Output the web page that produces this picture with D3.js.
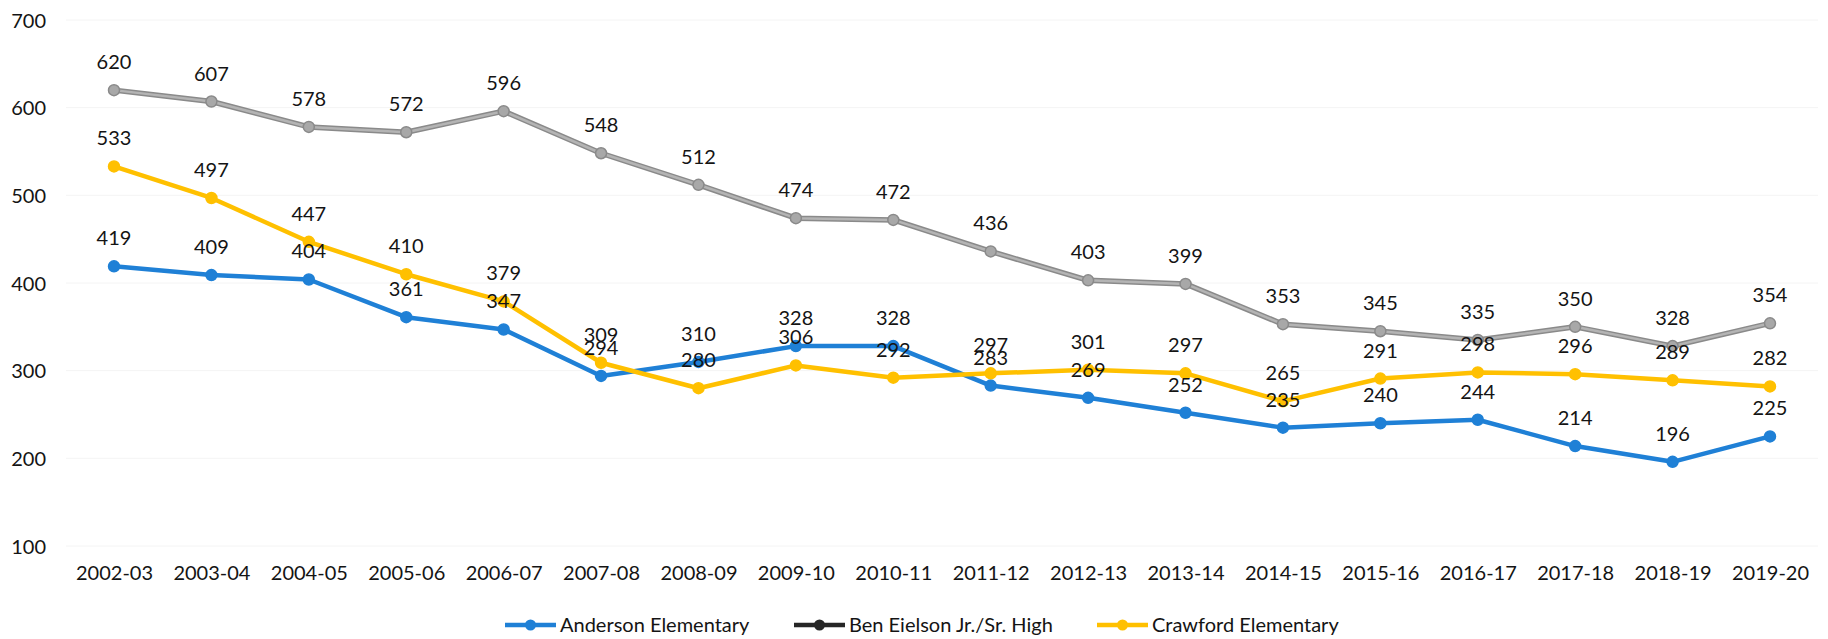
<!DOCTYPE html>
<html>
<head>
<meta charset="utf-8">
<script src="https://cdn.jsdelivr.net/npm/d3@7"></script>
<style>
    body { margin: 0; background: #fff; }
    svg text { font-family: Lato, "Open Sans", sans-serif; fill: #141414; }
</style>
</head>
<body>
<div id="chart"></div>
<script>
var years = ["2002-03", "2003-04", "2004-05", "2005-06", "2006-07", "2007-08", "2008-09", "2009-10", "2010-11",
    "2011-12", "2012-13", "2013-14", "2014-15", "2015-16", "2016-17", "2017-18", "2018-19", "2019-20"];
var anderson = [419, 409, 404, 361, 347, 294, 310, 328, 328, 283, 269, 252, 235, 240, 244, 214, 196, 225];
var benEielson = [620, 607, 578, 572, 596, 548, 512, 474, 472, 436, 403, 399, 353, 345, 335, 350, 328, 354];
var crawford = [533, 497, 447, 410, 379, 309, 280, 306, 292, 297, 301, 297, 265, 291, 298, 296, 289, 282];
var yTicks = [100, 200, 300, 400, 500, 600, 700];
var seriesNames = ["Anderson Elementary", "Ben Eielson Jr./Sr. High", "Crawford Elementary"];

const w = 1828;
const h = 639;
const fontSize = "20px";

var series = [
    { name: seriesNames[0], values: anderson, color: "#1f80d6", legendColor: "#1f80d6" },
    { name: seriesNames[1], values: benEielson, color: "#a6a6a6", legendColor: "#262626" },
    { name: seriesNames[2], values: crawford, color: "#ffc000", legendColor: "#ffc000" }
];

const svg = d3.select("#chart")
    .append("svg")
    .attr("width", w)
    .attr("height", h);

const xScale = d3.scalePoint()
    .domain(years)
    .range([114, 1770]);

const yScale = d3.scaleLinear()
    .domain([100, 700])
    .range([546, 20]);

// faint gridlines (almost invisible in the scan)
svg.append("g")
    .selectAll("line")
    .data(yTicks)
    .enter()
    .append("line")
    .attr("x1", 66)
    .attr("x2", 1818)
    .attr("y1", (d) => yScale(d))
    .attr("y2", (d) => yScale(d))
    .attr("stroke", "#f4f4f4")
    .attr("stroke-width", 1);

// y axis
const yAxis = d3.axisLeft(yScale).tickValues(yTicks).tickSize(0).tickPadding(0);
svg.append("g")
    .attr("transform", "translate(46,0)")
    .call(yAxis)
    .call((g) => g.select(".domain").remove())
    .selectAll("text")
    .style("font-size", fontSize)
    .attr("dy", "0.35em");

// x axis
const xAxis = d3.axisBottom(xScale).tickSize(0).tickPadding(0);
svg.append("g")
    .attr("transform", "translate(0,573)")
    .call(xAxis)
    .call((g) => g.select(".domain").remove())
    .selectAll("text")
    .style("font-size", fontSize)
    .attr("dy", "0.35em");

const line = d3.line()
    .x((d, i) => xScale(years[i]))
    .y((d) => yScale(d));

series.forEach((s) => {
    var g = svg.append("g");
    if (s.name === seriesNames[1]) {
        // grey series has a darker rim in the scan
        g.append("path")
            .attr("d", line(s.values))
            .attr("fill", "none")
            .attr("stroke", "#8a8a8a")
            .attr("stroke-width", 5.5)
            .attr("stroke-linejoin", "round");
        g.append("path")
            .attr("d", line(s.values))
            .attr("fill", "none")
            .attr("stroke", "#b4b4b4")
            .attr("stroke-width", 2.5)
            .attr("stroke-linejoin", "round");
    } else {
        g.append("path")
            .attr("d", line(s.values))
            .attr("fill", "none")
            .attr("stroke", s.color)
            .attr("stroke-width", 4.5)
            .attr("stroke-linejoin", "round");
    }
    g.selectAll("circle")
        .data(s.values)
        .enter()
        .append("circle")
        .attr("cx", (d, i) => xScale(years[i]))
        .attr("cy", (d) => yScale(d))
        .attr("r", 5.5)
        .attr("fill", s.name === seriesNames[1] ? "#a8a8a8" : s.color)
        .attr("stroke", s.name === seriesNames[1] ? "#8a8a8a" : s.color)
        .attr("stroke-width", 1.5);
});

// data labels, above each point
series.forEach((s) => {
    svg.append("g")
        .selectAll("text")
        .data(s.values)
        .enter()
        .append("text")
        .attr("x", (d, i) => xScale(years[i]))
        .attr("y", (d) => yScale(d) - 28)
        .attr("dy", "0.35em")
        .attr("text-anchor", "middle")
        .style("font-size", fontSize)
        .text((d) => d);
});

// legend
var legendX = [505, 794, 1097];
var legendY = 625;
const legend = svg.append("g");
series.forEach((s, i) => {
    var lg = legend.append("g").attr("transform", "translate(" + legendX[i] + "," + legendY + ")");
    lg.append("line")
        .attr("x1", 0)
        .attr("x2", 51)
        .attr("y1", 0)
        .attr("y2", 0)
        .attr("stroke", s.legendColor)
        .attr("stroke-width", 4.5);
    lg.append("circle")
        .attr("cx", 25.5)
        .attr("cy", 0)
        .attr("r", 5.5)
        .attr("fill", s.legendColor);
    lg.append("text")
        .attr("x", 55)
        .attr("y", 0)
        .attr("dy", "0.35em")
        .style("font-size", fontSize)
        .text(s.name);
});
</script>
</body>
</html>
